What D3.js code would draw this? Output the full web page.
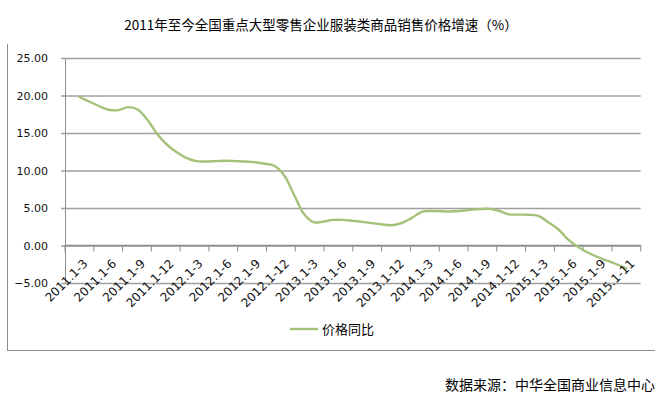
<!DOCTYPE html>
<html><head><meta charset="utf-8">
<script src="https://cdn.jsdelivr.net/npm/d3@7/dist/d3.min.js"></script>
<style>
html,body{margin:0;padding:0;background:#fff;}
svg{display:block;}
</style></head>
<body>
<svg id="c" width="661" height="401"></svg>
<script>
const title = "2011年至今全国重点大型零售企业服装类商品销售价格增速（%）";
const source = "数据来源：中华全国商业信息中心";
const seriesName = "价格同比";
const categories = ["2011.1-3","2011.1-6","2011.1-9","2011.1-12","2012.1-3","2012.1-6","2012.1-9","2012.1-12",
  "2013.1-3","2013.1-6","2013.1-9","2013.1-12","2014.1-3","2014.1-6","2014.1-9","2014.1-12",
  "2015.1-3","2015.1-6","2015.1-9","2015.1-11"];
const yTicks = [-5, 0, 5, 10, 15, 20, 25];
// price growth (monthly resolution)
const values = [19.8,19.2,18.6,18.1,18.05,18.45,18.1,16.7,14.8,13.4,
  12.4,11.65,11.25,11.2,11.25,11.3,11.25,11.2,11.1,10.9,
  10.6,9.3,6.7,4.2,3.1,3.2,3.42,3.42,3.29,3.15,
  2.98,2.8,2.7,3.0,3.65,4.45,4.6,4.57,4.53,4.6,
  4.75,4.85,4.88,4.6,4.15,4.12,4.1,3.95,3.1,2.2,
  0.85,-0.15,-0.9,-1.5,-2.0,-2.5,-3.05];

const svg = d3.select("#c");
const L = 65, R = 640.7, T = 58, B = 283;
const x = d3.scaleBand().domain(categories).range([L, R]).padding(0);
const y = d3.scaleLinear().domain([-5, 25]).range([B, T]);
const bw = x.bandwidth();
const xl = d3.scaleLinear().domain([0, values.length - 1])
  .range([x(categories[0]) + bw / 2, x(categories[categories.length - 1]) + bw / 2]);

// frame (left + bottom)
svg.append("line").attr("x1", 7.5).attr("x2", 7.5).attr("y1", 44).attr("y2", 351).attr("stroke", "#8c8c8c");
svg.append("line").attr("x1", 7).attr("x2", 655).attr("y1", 350.5).attr("y2", 350.5).attr("stroke", "#8c8c8c");

// title
svg.append("text").attr("x", 321).attr("y", 30).attr("text-anchor", "middle")
  .attr("font-family", "'Noto Sans CJK SC', sans-serif").attr("font-size", 13.5).attr("fill", "#000").text(title);

// gridlines + y axis
const yAxis = d3.axisLeft(y).tickValues(yTicks).tickSize(-(R - L)).tickSizeOuter(0).tickFormat(d3.format(".2f"));
const gy = svg.append("g").attr("transform", `translate(${L},0)`).call(yAxis);
gy.select(".domain").attr("stroke", "#8c8c8c");
gy.selectAll(".tick line").attr("stroke", "#a0a0a0").attr("stroke-width", 1.3).attr("x1", -4);
gy.selectAll(".tick text").attr("x", -17).attr("font-family", "'DejaVu Sans', sans-serif")
  .attr("font-size", 11).attr("fill", "#111");

// x axis ticks on zero line
const gx = svg.append("g").attr("transform", `translate(0,${y(0)})`);
const edges = categories.map(c => x(c)).concat([R]);
gx.selectAll("line.t").data(edges).join("line").attr("class", "t")
  .attr("x1", d => d).attr("x2", d => d).attr("y1", 0).attr("y2", 6).attr("stroke", "#8c8c8c");
gx.append("line").attr("x1", L).attr("x2", R).attr("y1", 0).attr("y2", 0).attr("stroke", "#8c8c8c").attr("stroke-width", 1.3);

// line
const line = d3.line().x((d, i) => xl(i)).y(d => y(d)).curve(d3.curveCatmullRom.alpha(0.5));
svg.append("path").datum(values).attr("d", line).attr("fill", "none")
  .attr("stroke", "#a3c178").attr("stroke-width", 2.4).attr("stroke-linejoin", "round").attr("stroke-linecap", "round");

// x labels
svg.append("g").selectAll("text").data(categories).join("text")
  .attr("transform", d => `translate(${x(d) + bw / 2 + 6},${y(0) + 16}) rotate(-45)`)
  .attr("text-anchor", "end").attr("dy", "0.35em")
  .attr("font-family", "'DejaVu Sans', sans-serif").attr("font-size", 12).attr("fill", "#111")
  .text(d => d);

// legend
svg.append("line").attr("x1", 290).attr("x2", 318).attr("y1", 329).attr("y2", 329)
  .attr("stroke", "#a3c178").attr("stroke-width", 2.4);
svg.append("text").attr("x", 322).attr("y", 333.5).attr("font-family", "'Noto Sans CJK SC', sans-serif")
  .attr("font-size", 13).attr("fill", "#000").text(seriesName);

// source
svg.append("text").attr("x", 655).attr("y", 390).attr("text-anchor", "end")
  .attr("font-family", "'Noto Sans CJK SC', sans-serif").attr("font-size", 14).attr("fill", "#000").text(source);
</script>
</body></html>
